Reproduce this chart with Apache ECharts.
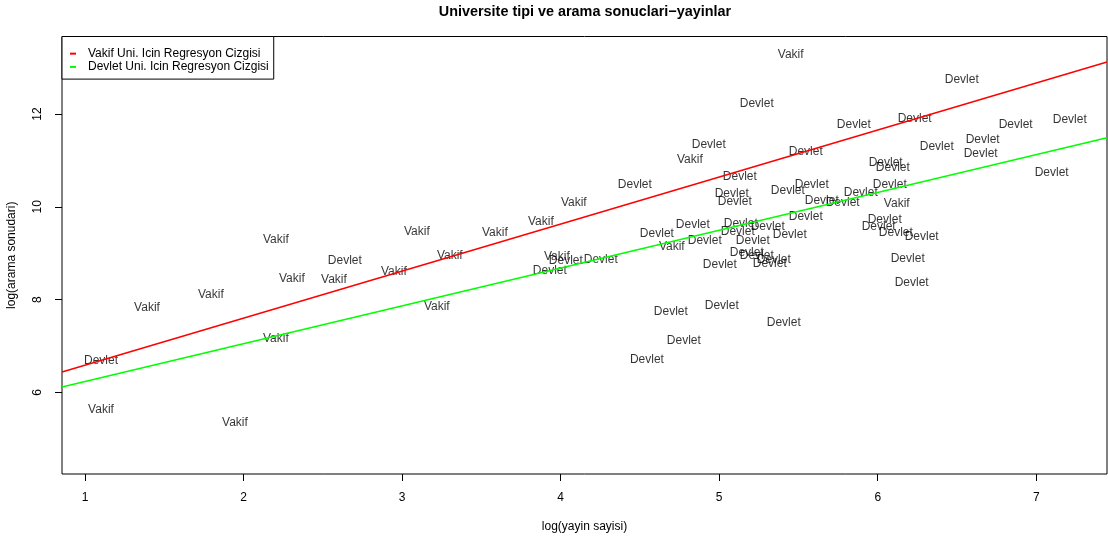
<!DOCTYPE html>
<html>
<head>
<meta charset="utf-8">
<script src="https://cdn.jsdelivr.net/npm/echarts@6/dist/echarts.min.js"></script>
<style>html,body{margin:0;padding:0;background:#fff;}#c{width:1108px;height:539px;}</style>
</head>
<body>
<div id="c"></div>
<script>
// ---- data ----
const vakifPoints = [
  [5.451,13.27],[4.815,11.01],[4.083,10.09],[6.120,10.06],[3.875,9.68],
  [3.093,9.46],[3.585,9.44],[2.204,9.29],[4.701,9.14],[3.976,8.92],
  [3.301,8.95],[2.948,8.60],[2.305,8.45],[2.570,8.43],[1.794,8.11],
  [1.391,7.83],[3.219,7.85],[2.204,7.16],[1.101,5.63],[1.946,5.35]
];
const devletPoints = [
  [6.530,12.75],[5.237,12.22],[5.849,11.78],[6.233,11.89],[6.870,11.78],
  [7.211,11.87],[6.372,11.29],[6.662,11.44],[6.649,11.14],[4.934,11.33],
  [5.546,11.18],[6.050,10.95],[6.095,10.84],[7.097,10.73],[4.468,10.47],
  [5.130,10.65],[5.584,10.47],[6.076,10.47],[5.433,10.34],[5.893,10.30],
  [5.079,10.28],[5.098,10.11],[5.647,10.13],[5.779,10.09],[5.546,9.78],
  [6.044,9.72],[6.006,9.57],[6.114,9.44],[6.277,9.35],[6.189,8.88],
  [6.214,8.37],[4.834,9.61],[4.607,9.42],[4.909,9.27],[5.136,9.63],
  [5.117,9.46],[5.306,9.57],[5.445,9.40],[5.212,9.27],[5.174,9.01],
  [5.237,8.95],[5.344,8.86],[5.319,8.77],[5.004,8.75],[4.033,8.84],
  [4.253,8.86],[3.932,8.62],[2.639,8.84],[1.101,6.69],[4.695,7.74],
  [5.016,7.87],[5.407,7.51],[4.777,7.12],[4.544,6.71]
];
const vakifLine = [[0.855,6.44],[7.446,13.12]];
const devletLine = [[0.855,6.12],[7.446,11.49]];
const xTicks = [1,2,3,4,5,6,7];
const yTicks = [6,8,10,12];
const xRange = [0.855, 7.446];
const yRange = [4.244, 13.67];
const titleText = 'Universite tipi ve arama sonuclari\u2212yayinlar';
const xName = 'log(yayin sayisi)';
const yName = 'log(arama sonudari)';
const lineNames = ['Vakif Uni. Icin Regresyon Cizgisi','Devlet Uni. Icin Regresyon Cizgisi'];

const FONT = '"Liberation Sans", Arial, Helvetica, sans-serif';
const chart = echarts.init(document.getElementById('c'), null, {renderer:'canvas'});

function textSeries(name, data){
  return {
    type:'scatter', name:name, data:data, symbol:'circle', symbolSize:1,
    itemStyle:{color:'rgba(0,0,0,0)'}, silent:true, z:2,
    label:{show:true, position:'inside', formatter:name, color:'#000',
      fontFamily:FONT, fontSize:12},
    emphasis:{disabled:true}
  };
}

chart.setOption({
  animation:false,
  backgroundColor:'#fff',
  title:{text:titleText, left:580, textAlign:'center', top:0,
    textStyle:{fontFamily:FONT, fontSize:14.4, fontWeight:'bold', color:'#000'}},
  legend:{
    data:lineNames, left:62, top:36.5, orient:'vertical', itemGap:0,
    icon:'rect', itemWidth:6, itemHeight:2,
    padding:[10.5,5,5.5,8], borderColor:'#000', borderWidth:1, backgroundColor:'#fff',
    textStyle:{fontFamily:FONT, fontSize:12, color:'#000', lineHeight:13.3, padding:[0,0,0,7]},
    selectedMode:false, z:10
  },
  grid:{left:62, top:36.5, width:1045, height:437.5, show:true, borderColor:'#000', borderWidth:1,
    containLabel:false, outerBoundsMode:'none'},
  xAxis:{type:'value', min:xRange[0], max:xRange[1],
    name:xName, nameLocation:'middle', nameGap:47,
    nameTextStyle:{fontFamily:FONT, fontSize:12, color:'#000'},
    axisLine:{show:false}, splitLine:{show:false},
    axisTick:{show:true, length:7, customValues:xTicks, lineStyle:{color:'#000'}},
    axisLabel:{customValues:xTicks, margin:18, fontFamily:FONT, fontSize:12, color:'#000'}
  },
  yAxis:{type:'value', min:yRange[0], max:yRange[1],
    name:yName, nameLocation:'middle', nameGap:44, nameRotate:90,
    nameTextStyle:{fontFamily:FONT, fontSize:12, color:'#000'},
    axisLine:{show:false}, splitLine:{show:false},
    axisTick:{show:true, length:7, customValues:yTicks, lineStyle:{color:'#000'}},
    axisLabel:{customValues:yTicks, rotate:90, margin:18, fontFamily:FONT, fontSize:12, color:'#000'}
  },
  series:[
    textSeries('Vakif', vakifPoints),
    textSeries('Devlet', devletPoints),
    {type:'line', name:lineNames[0], data:vakifLine, color:'#ff0000', symbol:'none', z:3,
      lineStyle:{color:'#ff0000', width:1.5}, silent:true, clip:true},
    {type:'line', name:lineNames[1], data:devletLine, color:'#00ff00', symbol:'none', z:3,
      lineStyle:{color:'#00ff00', width:1.5}, silent:true, clip:true}
  ]
});
</script>
</body>
</html>
